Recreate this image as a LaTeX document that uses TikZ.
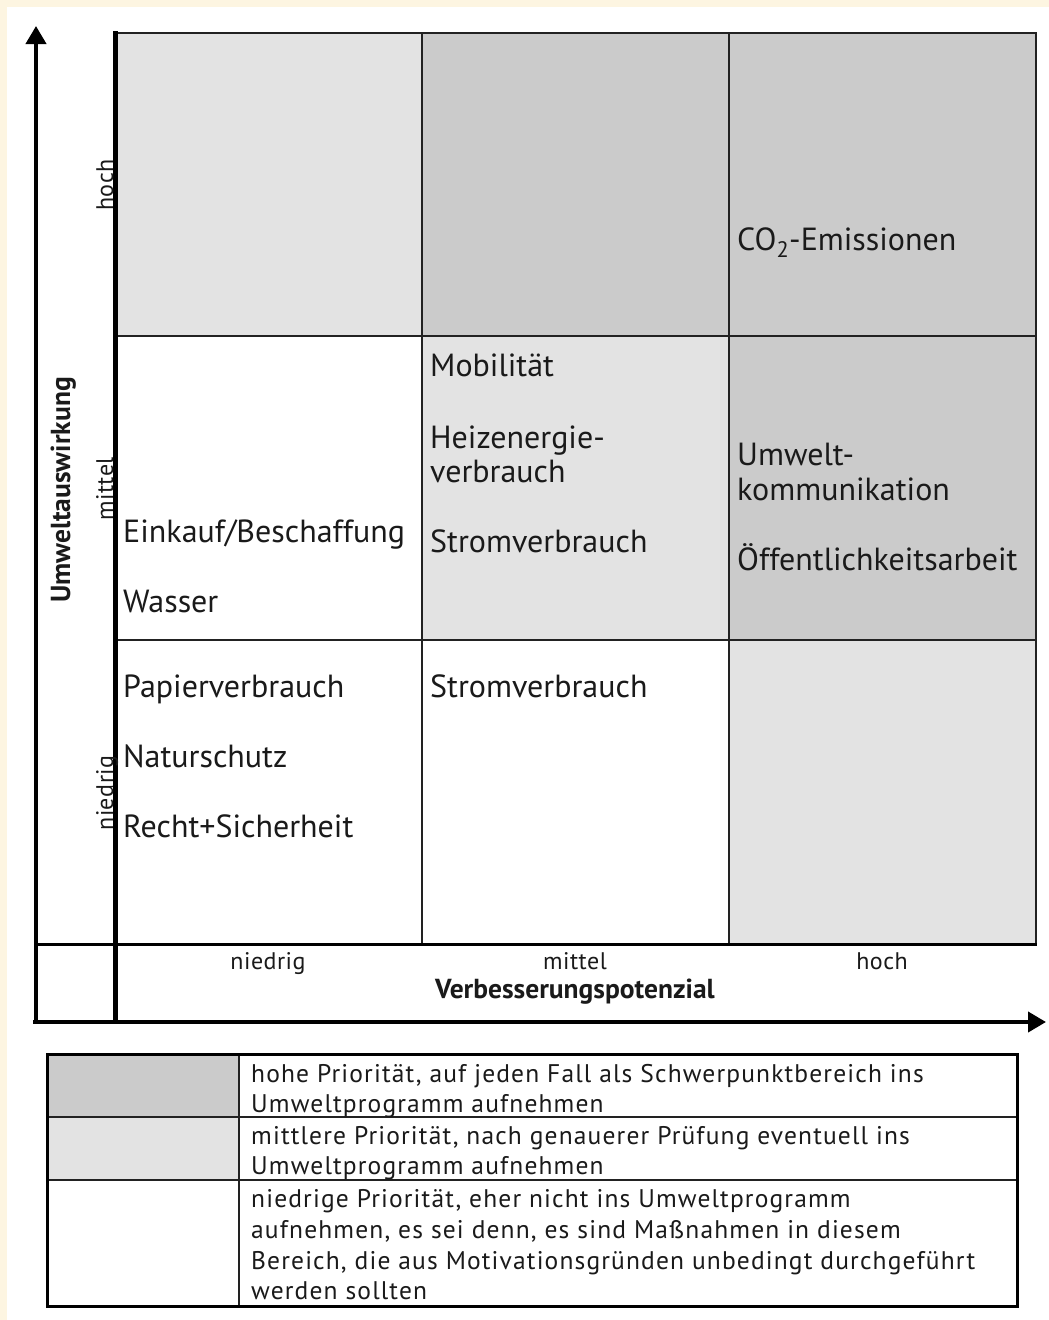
\documentclass[tikz,border=0pt]{standalone}
\usepackage{fontspec}
\setmainfont{PT Sans}
\usetikzlibrary{arrows.meta}
\definecolor{cream}{HTML}{FDF5E1}
\definecolor{hi}{HTML}{CBCBCB}
\definecolor{mid}{HTML}{E3E3E3}
\definecolor{ink}{HTML}{222222}
\definecolor{txt}{HTML}{1A1A1A}
\tikzset{
  cell/.style={draw=ink, line width=2.2pt, minimum width=307pt, minimum height=304pt, inner sep=0pt, outer sep=0pt, anchor=north west},
  item/.style={anchor=base west, inner sep=0pt, text=txt, font=\fontsize{32}{34}\selectfont},
  tick/.style={anchor=base, inner sep=0pt, text=txt, font=\fontsize{24}{26}\selectfont\addfontfeature{LetterSpace=2}},
  vtick/.style={tick, rotate=90},
  title/.style={anchor=base, inner sep=0pt, text=txt, font=\fontsize{27.5}{30}\selectfont\bfseries},
  legtxt/.style={anchor=base west, inner sep=0pt, text=txt, font=\fontsize{25.5}{31}\selectfont\addfontfeature{LetterSpace=4.5}},
  axis/.style={line width=4pt, draw=black, -{Triangle[length=18pt,width=20pt]}},
  frame/.style={line width=5pt, draw=black},
}
\begin{document}
\begin{tikzpicture}[x=1pt,y=-1pt]
\useasboundingbox (0,0) rectangle (1049,1320);
\fill[cream] (0,0) rectangle (1049,1320);
\fill[white] (7,7) rectangle (1049,1320);

% grid cells
\node[cell, fill=mid] (c11) at (115,33) {};
\node[cell, fill=hi]  (c12) at (422,33) {};
\node[cell, fill=hi]  (c13) at (729,33) {};
\node[cell, fill=white] (c21) at (115,336) {};
\node[cell, fill=mid] (c22) at (422,336) {};
\node[cell, fill=hi]  (c23) at (729,336) {};
\node[cell, fill=white] (c31) at (115,640) {};
\node[cell, fill=white] (c32) at (422,640) {};
\node[cell, fill=mid] (c33) at (729,640) {};

% frame lines
\coordinate (origin) at (36,1022);
\coordinate (ytip) at (36,26);
\coordinate (xstart) at (33,1022);
\coordinate (xtip) at (1046,1022);
\coordinate (vtop) at (115,31);
\coordinate (vbot) at (115,1022);
\coordinate (hl) at (36,944);
\coordinate (hr) at (1037,944);
\draw[line width=3pt] (hl) -- (hr);
\draw[frame] (vtop) -- (vbot);
\draw[axis] (origin) -- (ytip);
\draw[axis] (xstart) -- (xtip);

% cell texts
\node[item] (t1) at (737,250) {CO\textsubscript{2}-Emissionen};
\node[item] (t2) at (430,376) {Mobilität};
\node[item] (t3) at (430,448) {Heizenergie-};
\node[item] (t3b) at (430,482) {verbrauch};
\node[item] (t4) at (430,552) {Stromverbrauch};
\node[item] (t5) at (737,465) {Umwelt-};
\node[item] (t5b) at (737,500) {kommunikation};
\node[item] (t6) at (737,570) {Öffentlichkeitsarbeit};
\node[item] (t7) at (123,542) {Einkauf/Beschaffung};
\node[item] (t8) at (123,612) {Wasser};
\node[item] (t9) at (123,697) {Papierverbrauch};
\node[item] (t10) at (123,767) {Naturschutz};
\node[item] (t11) at (123,837) {Recht+Sicherheit};
\node[item] (t12) at (430,697) {Stromverbrauch};

% axis labels
\node[vtick] (yh) at (113,185) {hoch};
\node[vtick] (ym) at (113,489) {mittel};
\node[vtick] (yn) at (113,793) {niedrig};
\node[title, rotate=90] (ytitle) at (70,490) {Umweltauswirkung};
\node[tick] (xn) at (268,969) {niedrig};
\node[tick] (xm) at (575,969) {mittel};
\node[tick] (xh) at (882,969) {hoch};
\node[title] (xtitle) at (575,998) {Verbesserungspotenzial};

% legend
\fill[hi] (47,1054) rectangle (239,1117);
\fill[mid] (47,1117) rectangle (239,1180);
\coordinate (lg1) at (47,1054);
\coordinate (lg2) at (1017,1306);
\coordinate (lc1) at (239,1054);
\coordinate (lc2) at (239,1306);
\coordinate (lr1a) at (47,1117);
\coordinate (lr1b) at (1017,1117);
\coordinate (lr2a) at (47,1180);
\coordinate (lr2b) at (1017,1180);
\draw[ink, line width=2pt] (lc1) -- (lc2) (lr1a) -- (lr1b) (lr2a) -- (lr2b);
\draw[black, line width=3pt] (lg1) rectangle (lg2);
\node[legtxt] (l1) at (251,1082) {hohe Priorität, auf jeden Fall als Schwerpunktbereich ins};
\node[legtxt] (l1b) at (251,1112) {Umweltprogramm aufnehmen};
\node[legtxt] (l2) at (251,1144) {mittlere Priorität, nach genauerer Prüfung eventuell ins};
\node[legtxt] (l2b) at (251,1174) {Umweltprogramm aufnehmen};
\node[legtxt] (l3) at (251,1207) {niedrige Priorität, eher nicht ins Umweltprogramm};
\node[legtxt] (l3b) at (251,1238) {aufnehmen, es sei denn, es sind Maßnahmen in diesem};
\node[legtxt] (l3c) at (251,1269) {Bereich, die aus Motivationsgründen unbedingt durchgeführt};
\node[legtxt] (l3d) at (251,1299) {werden sollten};
\end{tikzpicture}
\end{document}
